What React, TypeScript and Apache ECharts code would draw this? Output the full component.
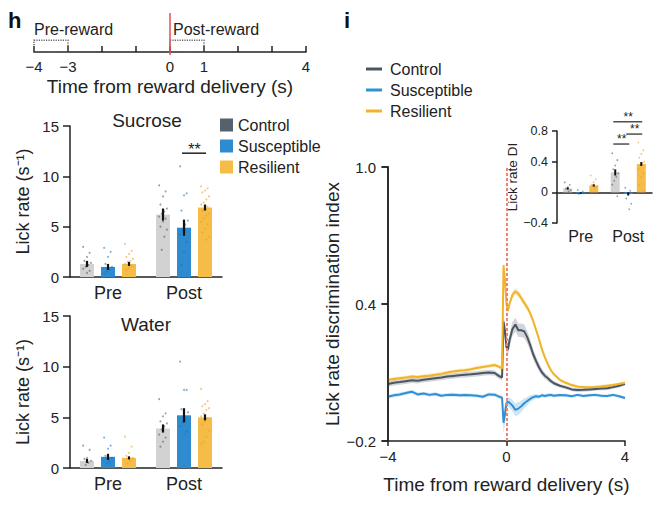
import React, { useEffect, useRef } from "react";
import * as echarts from "echarts";

const FONT = "'Liberation Sans', Arial, Helvetica, sans-serif";
const INK = "#222";

// ---------- panel h: timeline ----------
const timelineLabels = [-4, -3, 0, 1, 4];
const windowNames = ["Pre-reward", "Post-reward"];
const windowStarts = [-4, 0];
const windowEnds = [-3, 1];
const rewardTime = [0];

// ---------- panel h: bars ----------
const groups = ["Control", "Susceptible", "Resilient"];
const periods = ["Pre", "Post"];

const sucroseControl = [1.3, 6.2];
const sucroseSusceptible = [1.0, 4.9];
const sucroseResilient = [1.3, 6.9];
const sucroseControlSem = [0.3, 0.6];
const sucroseSusceptibleSem = [0.3, 0.8];
const sucroseResilientSem = [0.2, 0.3];
const sucroseControlDots = [
  [3.0, 2.4, 2.0, 1.6, 1.4, 1.2, 1.0, 0.8, 0.6, 0.4],
  [9.1, 8.5, 8.0, 7.2, 6.8, 6.5, 6.3, 6.0, 5.8, 5.5, 5.0, 4.7, 4.0, 2.7],
];
const sucroseSusceptibleDots = [
  [2.9, 2.5, 2.0, 1.3, 1.0, 0.7, 0.5, 0.3],
  [11.0, 8.3, 8.1, 6.6, 5.6, 5.2, 4.6, 4.2, 3.5, 2.5, 1.2],
];
const sucroseResilientDots = [
  [3.3, 2.6, 2.3, 2.0, 1.8, 1.6, 1.5, 1.3, 1.1, 0.9, 0.7],
  [9.0, 8.8, 8.6, 8.4, 8.0, 7.7, 7.4, 7.2, 7.0, 6.8, 6.6, 6.3, 6.1, 5.8, 5.5, 5.2, 4.8, 4.4, 4.0, 3.7],
];
const sucroseSig = [[1, 1, 2, 12.3]];

const waterControl = [0.7, 3.9];
const waterSusceptible = [1.1, 5.2];
const waterResilient = [1.0, 5.0];
const waterControlSem = [0.2, 0.4];
const waterSusceptibleSem = [0.3, 0.7];
const waterResilientSem = [0.15, 0.3];
const waterControlDots = [
  [2.2, 1.8, 1.0, 0.9, 0.7, 0.5, 0.3],
  [6.8, 5.4, 5.1, 4.6, 4.4, 4.1, 3.8, 3.3, 3.0, 2.6, 2.1],
];
const waterSusceptibleDots = [
  [3.0, 2.2, 1.9, 1.2, 1.0, 0.6, 0.4],
  [10.5, 7.7, 7.7, 5.8, 5.5, 4.8, 4.5, 4.1, 3.6, 3.3],
];
const waterResilientDots = [
  [3.1, 2.1, 1.5, 1.2, 1.0, 0.7, 0.4],
  [7.8, 6.6, 6.3, 6.1, 5.9, 5.7, 5.4, 5.1, 4.9, 4.6, 4.3, 3.7, 3.1, 2.6, 2.4],
];

// ---------- panel i: traces ----------
const mainYTicks = [-0.2, 0.4, 1.0];
const times = [
  -4.0, -3.8, -3.6, -3.4, -3.2, -3.0, -2.8, -2.6, -2.4, -2.2, -2.0, -1.8, -1.6, -1.4, -1.2, -1.0, -0.8, -0.6, -0.4,
  -0.25, -0.15, -0.1, -0.05, 0.0, 0.05, 0.1,
  0.2, 0.3, 0.4, 0.5, 0.6, 0.7, 0.8, 0.9, 1.0, 1.1, 1.2, 1.3, 1.4, 1.5, 1.6,
  1.8, 2.0, 2.2, 2.4, 2.6, 2.8, 3.0, 3.2, 3.4, 3.6, 3.8, 4.0,
];
const resilientMean = [
  0.067, 0.072, 0.075, 0.078, 0.082, 0.080, 0.084, 0.086, 0.090, 0.094, 0.100, 0.104, 0.108, 0.110, 0.114, 0.120, 0.124, 0.128, 0.133,
  0.125, 0.118, 0.57, 0.50, 0.40, 0.37, 0.40,
  0.44, 0.455, 0.445, 0.425, 0.405, 0.385, 0.36, 0.325, 0.286, 0.245, 0.20, 0.165, 0.135, 0.11, 0.092,
  0.068, 0.055, 0.045, 0.038, 0.036, 0.035, 0.036, 0.039, 0.042, 0.045, 0.050, 0.055,
];
const resilientSem = [
  0.008, 0.008, 0.008, 0.008, 0.008, 0.008, 0.008, 0.008, 0.008, 0.008, 0.008, 0.008, 0.008, 0.008, 0.008, 0.008, 0.008, 0.008, 0.008,
  0.008, 0.008, 0.012, 0.012, 0.012, 0.012, 0.012,
  0.014, 0.015, 0.015, 0.015, 0.014, 0.014, 0.013, 0.013, 0.012, 0.012, 0.011, 0.010, 0.010, 0.009, 0.008,
  0.007, 0.007, 0.007, 0.007, 0.007, 0.007, 0.007, 0.007, 0.007, 0.007, 0.007, 0.007,
];
const controlMean = [
  0.050, 0.055, 0.058, 0.062, 0.066, 0.064, 0.068, 0.072, 0.075, 0.078, 0.082, 0.085, 0.088, 0.090, 0.092, 0.095, 0.098, 0.100, 0.098,
  0.084, 0.078, 0.323, 0.28, 0.21, 0.20, 0.24,
  0.29, 0.31, 0.285, 0.285, 0.28, 0.255, 0.22, 0.18, 0.15, 0.122, 0.10, 0.085, 0.075, 0.062, 0.053,
  0.042, 0.035, 0.026, 0.023, 0.024, 0.026, 0.028, 0.030, 0.031, 0.036, 0.042, 0.050,
];
const controlSem = [
  0.012, 0.012, 0.012, 0.012, 0.012, 0.012, 0.012, 0.012, 0.012, 0.012, 0.012, 0.012, 0.012, 0.012, 0.012, 0.012, 0.012, 0.012, 0.012,
  0.012, 0.012, 0.03, 0.03, 0.025, 0.025, 0.028,
  0.03, 0.03, 0.03, 0.03, 0.03, 0.028, 0.025, 0.022, 0.02, 0.018, 0.015, 0.013, 0.012, 0.010, 0.010,
  0.008, 0.008, 0.008, 0.008, 0.008, 0.008, 0.008, 0.008, 0.008, 0.008, 0.008, 0.008,
];
const susceptibleMean = [
  -0.006, 0.000, 0.004, 0.010, 0.016, 0.004, 0.008, 0.002, 0.006, -0.002, 0.002, 0.003, 0.000, 0.001, 0.000, -0.002, -0.006, 0.004, 0.003,
  -0.006, -0.010, -0.12, -0.08, -0.035, -0.028, -0.032,
  -0.045, -0.064, -0.058, -0.048, -0.035, -0.025, -0.015, -0.008, -0.004, -0.006, 0.000, -0.003, 0.000, 0.002, -0.002,
  0.001, 0.000, -0.004, 0.002, -0.003, 0.000, 0.002, -0.002, -0.003, 0.002, -0.004, -0.012,
];
const susceptibleSem = [
  0.008, 0.008, 0.008, 0.008, 0.008, 0.008, 0.008, 0.008, 0.008, 0.008, 0.008, 0.008, 0.008, 0.008, 0.008, 0.008, 0.008, 0.008, 0.008,
  0.008, 0.010, 0.05, 0.04, 0.025, 0.02, 0.022,
  0.025, 0.028, 0.028, 0.025, 0.022, 0.018, 0.015, 0.012, 0.010, 0.009, 0.008, 0.008, 0.008, 0.008, 0.008,
  0.007, 0.007, 0.007, 0.007, 0.007, 0.007, 0.007, 0.007, 0.007, 0.007, 0.007, 0.007,
];

// ---------- panel i: inset ----------
const diControl = [0.05, 0.26];
const diSusceptible = [-0.01, -0.02];
const diResilient = [0.09, 0.37];
const diControlSem = [0.015, 0.04];
const diSusceptibleSem = [0.01, 0.02];
const diResilientSem = [0.015, 0.025];
const diControlDots = [
  [0.13, 0.1, 0.07, 0.05, 0.03, 0.01],
  [0.51, 0.42, 0.35, 0.3, 0.25, 0.2, 0.15, 0.1, -0.05],
];
const diSusceptibleDots = [
  [0.03, 0.01, -0.01, -0.02],
  [0.06, 0.02, -0.03, -0.08, -0.15, -0.22],
];
const diResilientDots = [
  [0.22, 0.17, 0.13, 0.1, 0.08, 0.06],
  [0.65, 0.55, 0.5, 0.45, 0.4, 0.38, 0.35, 0.3, 0.25, 0.2, 0.1, 0.02],
];
const insetSig = [
  [1, 0, 2, 0.92],
  [1, 1, 2, 0.76],
  [1, 0, 1, 0.63],
];

// ---------- layout ----------
const mainGrid = { left: 388, top: 167, width: 237, height: 274 };
const mainYMin = -0.2;
const mainYMax = 1.0;

// ---------- styles ----------
const barColors = ["#d2d2d2", "#2e8bcf", "#f5bd47"];
const legendSquareColors = ["#56616b", "#2e8bcf", "#f5bd47"];
const dotColors = ["#555555", "#1f6fae", "#ee9a1a"];
const lineColors = ["#4b5661", "#2f90d5", "#f0b428"];
const bandColors = ["rgba(125,135,145,0.35)", "rgba(60,150,220,0.25)", "rgba(245,190,70,0.35)"];

const fmt = (v: number, d: number) => (v === 0 ? "0" : v.toFixed(d)).replace("-", "\u2212");

function barSeries(xi: number, yi: number, means: number[][], width: number, gap: string) {
  return groups.map((g, i) => ({
    type: "bar",
    name: g,
    xAxisIndex: xi,
    yAxisIndex: yi,
    data: means[i],
    barWidth: width,
    barGap: gap,
    silent: true,
    z: 2,
    itemStyle: { color: barColors[i] },
  }));
}

function errSeries(xi: number, yi: number, means: number[][], sems: number[][], step: number, lw: number) {
  const data: number[][] = [];
  means.forEach((m, g) => m.forEach((v, c) => data.push([c, g, v - sems[g][c], v + sems[g][c]])));
  return {
    type: "custom",
    xAxisIndex: xi,
    yAxisIndex: yi,
    silent: true,
    z: 5,
    data,
    encode: { x: 0, y: [2, 3] },
    renderItem: (_p: any, api: any) => {
      const c = api.value(0);
      const g = api.value(1);
      const lo = api.coord([c, api.value(2)]);
      const hi = api.coord([c, api.value(3)]);
      const dx = (g - 1) * step;
      return {
        type: "line",
        shape: { x1: lo[0] + dx, y1: lo[1], x2: hi[0] + dx, y2: hi[1] },
        style: { stroke: "#111", lineWidth: lw },
      };
    },
  };
}

function dotSeries(xi: number, yi: number, dots: number[][][], step: number, r: number, jit: number) {
  const data: number[][] = [];
  dots.forEach((perCat, g) => perCat.forEach((vals, c) => vals.forEach((v, k) => data.push([c, g, v, k]))));
  return {
    type: "custom",
    xAxisIndex: xi,
    yAxisIndex: yi,
    silent: true,
    z: 4,
    data,
    encode: { x: 0, y: 2 },
    renderItem: (_p: any, api: any) => {
      const pt = api.coord([api.value(0), api.value(2)]);
      const g = api.value(1);
      const k = api.value(3);
      const dx = (g - 1) * step + (((k * 5) % 7) - 3) * jit;
      return {
        type: "circle",
        shape: { cx: pt[0] + dx, cy: pt[1], r },
        style: { fill: dotColors[g], opacity: 0.55 },
      };
    },
  };
}

function sigSeries(xi: number, yi: number, items: number[][], step: number, fs: number, lw: number, tOff: number) {
  return {
    type: "custom",
    xAxisIndex: xi,
    yAxisIndex: yi,
    silent: true,
    z: 6,
    data: items,
    encode: { x: 0, y: 3 },
    renderItem: (_p: any, api: any) => {
      const base = api.coord([api.value(0), api.value(3)]);
      const xa = base[0] + (api.value(1) - 1) * step;
      const xb = base[0] + (api.value(2) - 1) * step;
      return {
        type: "group",
        children: [
          { type: "line", shape: { x1: xa - 2, y1: base[1], x2: xb + 1, y2: base[1] }, style: { stroke: INK, lineWidth: lw } },
          {
            type: "text",
            x: (xa + xb) / 2,
            y: base[1] + tOff,
            style: { text: "**", fontSize: fs, fontFamily: FONT, fill: INK, align: "center", verticalAlign: "bottom" },
          },
        ],
      };
    },
  };
}

function bandSeries(mean: number[], sem: number[], color: string) {
  return {
    type: "custom",
    xAxisIndex: 3,
    yAxisIndex: 3,
    silent: true,
    z: 1,
    data: [[0, 0]],
    renderItem: (_p: any, api: any) => {
      const upper = times.map((t, i) => api.coord([t, mean[i] + sem[i]]));
      const lower = times.map((t, i) => api.coord([t, mean[i] - sem[i]])).reverse();
      return { type: "polygon", shape: { points: upper.concat(lower) }, style: { fill: color } };
    },
  };
}

function lineSeries(name: string, mean: number[], color: string, extra: any = {}) {
  return {
    type: "line",
    name,
    xAxisIndex: 3,
    yAxisIndex: 3,
    silent: true,
    z: 3,
    symbol: "none",
    data: times.map((t, i) => [t, mean[i]]),
    lineStyle: { color, width: 2 },
    itemStyle: { color },
    ...extra,
  };
}

const axisLineStyle = { color: INK, width: 1.5 };

function barYAxis(gridIndex: number) {
  return {
    type: "value",
    gridIndex,
    position: "left",
    min: 0,
    max: 15,
    interval: 5,
    name: "Lick rate (s\u207B\u00B9)",
    nameLocation: "middle",
    nameGap: 38,
    nameTextStyle: { fontSize: 18, color: INK, fontFamily: FONT },
    axisLine: { show: true, onZero: false, lineStyle: axisLineStyle },
    axisTick: { show: true, length: 7, lineStyle: axisLineStyle },
    axisLabel: { fontSize: 15, color: INK, margin: 11 },
    splitLine: { show: false },
  };
}

function barXAxis(gridIndex: number) {
  return {
    type: "category",
    gridIndex,
    data: periods,
    axisLine: { show: true, lineStyle: axisLineStyle },
    axisTick: { show: false },
    axisLabel: { fontSize: 18, color: INK, margin: 7 },
  };
}

export default function App() {
  const ref = useRef<HTMLDivElement>(null);
  useEffect(() => {
    if (!ref.current) return;
    const chart = echarts.init(ref.current, undefined, { renderer: "svg" });
    const sucMeans = [sucroseControl, sucroseSusceptible, sucroseResilient];
    const sucSems = [sucroseControlSem, sucroseSusceptibleSem, sucroseResilientSem];
    const watMeans = [waterControl, waterSusceptible, waterResilient];
    const watSems = [waterControlSem, waterSusceptibleSem, waterResilientSem];
    const diMeans = [diControl, diSusceptible, diResilient];
    const diSems = [diControlSem, diSusceptibleSem, diResilientSem];

    // overlay spine for the main panel's y axis, aligned with the axis line
    const yPix = (v: number) => mainGrid.top + ((mainYMax - v) / (mainYMax - mainYMin)) * mainGrid.height;
    const spine: any[] = [
      {
        type: "rect",
        z: 100,
        silent: true,
        shape: { x: mainGrid.left - 0.75, y: yPix(mainYMax) - 0.75, width: 1.5, height: yPix(mainYMin) - yPix(mainYMax) + 1.5 },
        style: { fill: INK },
      },
      ...mainYTicks.map((v) => ({
        type: "rect",
        z: 100,
        silent: true,
        shape: { x: mainGrid.left - 6.75, y: yPix(v) - 0.75, width: 6, height: 1.5 },
        style: { fill: INK },
      })),
    ];

    const option: any = {
      animation: false,
      backgroundColor: "#ffffff",
      textStyle: { fontFamily: FONT, color: INK },
      grid: [
        { left: 34, top: 13, width: 272, height: 39 },
        { left: 70, top: 126, width: 152, height: 151 },
        { left: 70, top: 316, width: 152, height: 152 },
        mainGrid,
        { left: 557, top: 131, width: 95, height: 92 },
      ],
      xAxis: [
        {
          type: "value",
          gridIndex: 0,
          min: -4,
          max: 4,
          interval: 1,
          name: "Time from reward delivery (s)",
          nameLocation: "middle",
          nameGap: 25,
          nameTextStyle: { fontSize: 19, color: INK },
          axisLine: { show: true, onZero: false, lineStyle: axisLineStyle },
          axisTick: { show: true, inside: true, length: 6, lineStyle: axisLineStyle },
          axisLabel: {
            fontSize: 15,
            color: INK,
            margin: 7,
            formatter: (v: number) => (timelineLabels.includes(v) ? fmt(v, 0) : ""),
          },
          splitLine: { show: false },
        },
        barXAxis(1),
        barXAxis(2),
        {
          type: "value",
          gridIndex: 3,
          min: -4,
          max: 4,
          interval: 4,
          name: "Time from reward delivery (s)",
          nameLocation: "middle",
          nameGap: 34,
          nameTextStyle: { fontSize: 19, color: INK },
          axisLine: { show: true, onZero: false, lineStyle: axisLineStyle },
          axisTick: { show: true, length: 5, lineStyle: axisLineStyle },
          axisLabel: { fontSize: 15, color: INK, margin: 8, formatter: (v: number) => fmt(v, 0) },
          splitLine: { show: false },
        },
        {
          type: "category",
          gridIndex: 4,
          data: periods,
          axisLine: { show: true, onZero: true, lineStyle: axisLineStyle },
          axisTick: { show: false },
          axisLabel: { show: false },
        },
        {
          type: "category",
          gridIndex: 4,
          data: periods,
          position: "bottom",
          axisLine: { show: false, onZero: false },
          axisTick: { show: false },
          axisLabel: { fontSize: 16, color: INK, margin: 5 },
        },
      ],
      yAxis: [
        { type: "value", gridIndex: 0, min: 0, max: 1, show: false },
        barYAxis(1),
        barYAxis(2),
        {
          type: "value",
          gridIndex: 3,
          position: "left",
          min: mainYMin,
          max: mainYMax,
          interval: 0.6,
          name: "Lick rate discrimination index",
          nameLocation: "middle",
          nameGap: 46,
          nameTextStyle: { fontSize: 19, color: INK },
          axisLine: { show: true, onZero: false, lineStyle: axisLineStyle },
          axisTick: { show: true, length: 6, lineStyle: axisLineStyle },
          axisLabel: { fontSize: 15, color: INK, margin: 12, formatter: (v: number) => fmt(v, 1) },
          splitLine: { show: false },
        },
        {
          type: "value",
          gridIndex: 4,
          position: "left",
          min: -0.4,
          max: 0.8,
          interval: 0.4,
          name: "Lick rate DI",
          nameLocation: "middle",
          nameGap: 32,
          nameTextStyle: { fontSize: 13.5, color: INK },
          axisLine: { show: true, onZero: false, lineStyle: axisLineStyle },
          axisTick: { show: true, length: 5, lineStyle: axisLineStyle },
          axisLabel: { fontSize: 12.5, color: INK, margin: 9, formatter: (v: number) => fmt(v, 1) },
          splitLine: { show: false },
        },
      ],
      legend: [
        {
          left: 220,
          top: 117,
          padding: 0,
          orient: "vertical",
          icon: "rect",
          itemWidth: 13,
          itemHeight: 13,
          itemGap: 5,
          selectedMode: false,
          textStyle: { fontSize: 16, color: INK },
          data: groups.map((g, i) => ({ name: g, itemStyle: { color: legendSquareColors[i] } })),
        },
        {
          left: 366,
          top: 61,
          padding: 0,
          orient: "vertical",
          icon: "rect",
          itemWidth: 16,
          itemHeight: 3,
          itemGap: 5,
          selectedMode: false,
          textStyle: { fontSize: 16, color: INK, padding: [0, 0, 0, 3] },
          data: groups.map((g, i) => ({ name: g, itemStyle: { color: lineColors[i] } })),
        },
      ],
      graphic: [
        { type: "text", x: 8, y: 20, style: { text: "h", fontSize: 22, fontWeight: "bold", fontFamily: FONT, fill: "#111", verticalAlign: "middle" } },
        { type: "text", x: 344, y: 20, style: { text: "i", fontSize: 22, fontWeight: "bold", fontFamily: FONT, fill: "#111", verticalAlign: "middle" } },
        { type: "text", x: 147, y: 120, style: { text: "Sucrose", fontSize: 19, fontFamily: FONT, fill: INK, align: "center", verticalAlign: "middle" } },
        { type: "text", x: 146, y: 324, style: { text: "Water", fontSize: 19, fontFamily: FONT, fill: INK, align: "center", verticalAlign: "middle" } },
        ...spine,
      ],
      series: [
        // timeline windows
        {
          type: "custom",
          xAxisIndex: 0,
          yAxisIndex: 0,
          silent: true,
          data: windowStarts.map((s, i) => [s, windowEnds[i], i]),
          renderItem: (_p: any, api: any) => {
            const i = api.value(2);
            const a = api.coord([api.value(0), 0]);
            const b = api.coord([api.value(1), 0.3]);
            return {
              type: "group",
              children: [
                {
                  type: "rect",
                  shape: { x: a[0], y: b[1], width: b[0] - a[0], height: a[1] - b[1] },
                  style: { fill: "none", stroke: "#666", lineWidth: 1.5, lineDash: [1.2, 1.2] },
                },
                {
                  type: "text",
                  x: a[0] + (i === 1 ? 3 : 0),
                  y: b[1] - 3,
                  style: { text: windowNames[i], fontSize: 16, fontFamily: FONT, fill: INK, align: "left", verticalAlign: "bottom" },
                },
              ],
            };
          },
        },
        {
          type: "custom",
          xAxisIndex: 0,
          yAxisIndex: 0,
          silent: true,
          z: 5,
          data: rewardTime.map((t) => [t]),
          renderItem: (_p: any, api: any) => {
            const top = api.coord([api.value(0), 1]);
            const bot = api.coord([api.value(0), 0]);
            return {
              type: "line",
              shape: { x1: top[0], y1: top[1], x2: bot[0], y2: bot[1] + 3 },
              style: { stroke: "#e0505a", lineWidth: 1.5 },
            };
          },
        },
        // sucrose
        ...barSeries(1, 1, sucMeans, 14, "50%"),
        dotSeries(1, 1, [sucroseControlDots, sucroseSusceptibleDots, sucroseResilientDots], 21, 1.0, 1.3),
        errSeries(1, 1, sucMeans, sucSems, 21, 2.2),
        sigSeries(1, 1, sucroseSig, 21, 16, 1.5, 4),
        // water
        ...barSeries(2, 2, watMeans, 14, "50%"),
        dotSeries(2, 2, [waterControlDots, waterSusceptibleDots, waterResilientDots], 21, 1.0, 1.3),
        errSeries(2, 2, watMeans, watSems, 21, 2.2),
        // main traces
        bandSeries(controlMean, controlSem, bandColors[0]),
        bandSeries(susceptibleMean, susceptibleSem, bandColors[1]),
        bandSeries(resilientMean, resilientSem, bandColors[2]),
        lineSeries("Control", controlMean, lineColors[0]),
        lineSeries("Susceptible", susceptibleMean, lineColors[1]),
        lineSeries("Resilient", resilientMean, lineColors[2], {
          markLine: {
            silent: true,
            symbol: "none",
            z: 10,
            label: { show: false },
            lineStyle: { color: "#f08470", type: [3, 2], width: 2 },
            data: [{ xAxis: 0 }],
          },
        }),
        // inset
        ...barSeries(4, 4, diMeans, 9, "45%"),
        dotSeries(4, 4, [diControlDots, diSusceptibleDots, diResilientDots], 13, 0.9, 1.0),
        errSeries(4, 4, diMeans, diSems, 13, 2),
        sigSeries(4, 4, insetSig, 13, 12, 1.2, 1),
      ],
    };
    chart.setOption(option);
    return () => chart.dispose();
  }, []);
  return <div ref={ref} style={{ position: "absolute", left: 0, top: 0, width: 657, height: 506 }} />;
}
